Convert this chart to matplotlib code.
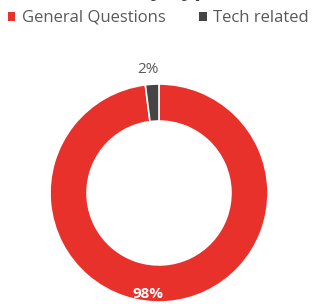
import matplotlib.pyplot as plt
from matplotlib.patches import Patch

plt.rcParams["font.family"] = ["Open Sans", "DejaVu Sans"]

categories = ["General Questions", "Tech related"]
shares = [98, 2]
colors = ["#E8312B", "#454545"]
title = "Query Type"

fig = plt.figure(figsize=(3.17, 3.04), dpi=100)
fig.patch.set_facecolor("white")

# donut
ax = fig.add_axes([50 / 317, 1 - 302 / 304, 218 / 317, 218 / 304])
wedges, _ = ax.pie(
    shares,
    colors=colors,
    startangle=90,
    counterclock=False,
    radius=1.0,
    wedgeprops=dict(width=0.34, edgecolor="white", linewidth=1.2),
)
ax.set_aspect("equal")
ax.set_xlim(-1, 1)
ax.set_ylim(-1, 1)

# data labels
ax.text(-0.1, 1.13, f"{shares[1]}%", ha="center", va="center",
        fontsize=11, color="#595959")
ax.text(-0.1, -0.93, f"{shares[0]}%", ha="center", va="center",
        fontsize=11, color="white", fontweight="bold")

# title (cut off at the top of the crop, only descenders show)
fig.text(0.5, 1.032, title, ha="center", va="center", fontsize=16,
         fontweight="bold", color="#404040")

handles = [Patch(facecolor=c, edgecolor="none") for c in colors]
fig.legend(handles, categories, loc="center", bbox_to_anchor=(0.5, 1 - 18 / 304),
           ncol=2, frameon=False, fontsize=12, handlelength=0.45,
           handleheight=0.45, handletextpad=0.4, columnspacing=2.0,
           labelcolor="#595959")

fig.savefig("out.png", dpi=100, facecolor="white")
